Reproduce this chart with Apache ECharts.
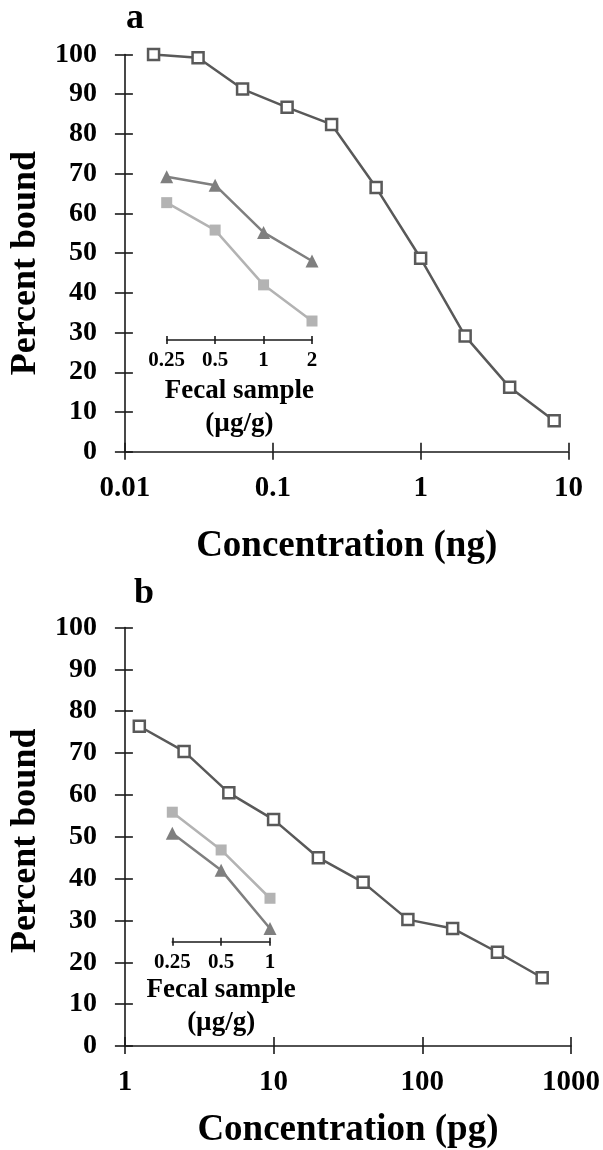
<!DOCTYPE html>
<html>
<head>
<meta charset="utf-8">
<script src="https://cdn.jsdelivr.net/npm/echarts@6/dist/echarts.min.js"></script>
<style>
html, body { margin: 0; padding: 0; background: #fff; }
#main { width: 603px; height: 1150px; }
</style>
</head>
<body>
<div id="main"></div>
<script>
// panel a: standard curve, ng
var concA = [0.015625, 0.03125, 0.0625, 0.125, 0.25, 0.5, 1, 2, 4, 8];
var boundA = [100, 99.2, 91.3, 86.7, 82.4, 66.5, 48.7, 29.1, 16.2, 7.8];
var fecalA = ['0.25', '0.5', '1', '2'];
var fecalTriA = [69.2, 67.1, 55.2, 48.0];
var fecalSqA = [62.7, 55.8, 42.0, 32.9];

// panel b: standard curve, pg
var concB = [1.25, 2.5, 5, 10, 20, 40, 80, 160, 320, 640];
var boundB = [76.4, 70.4, 60.5, 54.1, 45.0, 39.1, 30.2, 28.1, 22.4, 16.3];
var fecalB = ['0.25', '0.5', '1'];
var fecalSqB = [56.0, 47.0, 35.5];
var fecalTriB = [51.0, 42.2, 28.3];

var FONT = "'Liberation Serif', 'Times New Roman', serif";
var AXIS = '#1a1a1a';
var DARK = '#595959';
var MID = '#7f7f7f';
var LIGHT = '#b3b3b3';

function pairs(xs, ys) {
    return xs.map(function (x, i) { return [x, ys[i]]; });
}

// each axis comes twice: one with outside ticks + labels, one with inside ticks only,
// so the ticks cross the axis line like in the original figure
function mainX(grid, min, max, name, gap) {
    return [{
        type: 'log', logBase: 10, gridIndex: grid, min: min, max: max, position: 'bottom',
        name: name, nameLocation: 'middle', nameGap: gap,
        nameTextStyle: { fontFamily: FONT, fontWeight: 'bold', fontSize: 37, color: '#000' },
        axisLine: { lineStyle: { color: AXIS, width: 1.6 } },
        axisTick: { length: 8, lineStyle: { color: AXIS, width: 1.6 } },
        axisLabel: {
            margin: 22, fontFamily: FONT, fontWeight: 'bold', fontSize: 29, color: '#000',
            formatter: function (v) { return String(+v.toPrecision(6)); }
        },
        splitLine: { show: false }, minorTick: { show: false }
    }, {
        type: 'log', logBase: 10, gridIndex: grid, min: min, max: max, position: 'bottom',
        axisLine: { show: false },
        axisTick: { show: true, inside: true, length: 9, lineStyle: { color: AXIS, width: 1.6 } },
        axisLabel: { show: false }, splitLine: { show: false }
    }];
}

function mainY(grid, gap, shift) {
    return [{
        type: 'value', gridIndex: grid, min: 0, max: 100, interval: 10, position: 'left',
        name: 'Percent bound', nameLocation: 'middle', nameGap: gap,
        nameTextStyle: { fontFamily: FONT, fontWeight: 'bold', fontSize: 36, color: '#000', padding: [0, shift, 0, 0] },
        axisLine: { show: true, lineStyle: { color: AXIS, width: 1.6 } },
        axisTick: { show: true, length: 10, lineStyle: { color: AXIS, width: 1.6 } },
        axisLabel: { margin: 28, fontFamily: FONT, fontWeight: 'bold', fontSize: 28, color: '#000' },
        splitLine: { show: false }
    }, {
        type: 'value', gridIndex: grid, min: 0, max: 100, interval: 10, position: 'left',
        axisLine: { show: false },
        axisTick: { show: true, inside: true, length: 8, lineStyle: { color: AXIS, width: 1.6 } },
        axisLabel: { show: false }, splitLine: { show: false }
    }];
}

function insetX(grid, cats, gap) {
    return [{
        type: 'category', gridIndex: grid, data: cats, boundaryGap: false, position: 'bottom',
        name: 'Fecal sample\n(µg/g)', nameLocation: 'middle', nameGap: gap,
        nameTextStyle: { fontFamily: FONT, fontWeight: 'bold', fontSize: 27, lineHeight: 33, color: '#000' },
        axisLine: { lineStyle: { color: AXIS, width: 1.6 } },
        axisTick: { length: 4, interval: 0, lineStyle: { color: AXIS, width: 1.6 } },
        axisLabel: { margin: 10, interval: 0, hideOverlap: false, fontFamily: FONT, fontWeight: 'bold', fontSize: 21, color: '#000' }
    }, {
        type: 'category', gridIndex: grid, data: cats, boundaryGap: false, position: 'bottom',
        axisLine: { show: false },
        axisTick: { show: true, inside: true, length: 4, interval: 0, lineStyle: { color: AXIS, width: 1.6 } },
        axisLabel: { show: false }
    }];
}

var myChart = echarts.init(document.getElementById('main'));
var option = {
    backgroundColor: '#fff',
    animation: false,
    title: [
        { text: 'a', left: 121, top: -4, textStyle: { fontFamily: FONT, fontWeight: 'bold', fontSize: 36, color: '#000' } },
        { text: 'b', left: 129, top: 571, textStyle: { fontFamily: FONT, fontWeight: 'bold', fontSize: 36, color: '#000' } }
    ],
    grid: [
        { left: 114.5, width: 454, top: 54.5, height: 397.2 },
        { left: 120.4, width: 451.7, top: 627.5, height: 419.8 },
        { left: 166.7, width: 145.3, top: 54.5, height: 285.5 },
        { left: 172.3, width: 97.7, top: 627.5, height: 314.2 }
    ],
    // x: 0,1 grid a | 2,3 grid b | 4,5 inset a | 6,7 inset b
    xAxis: [].concat(
        mainX(0, 0.01, 10, 'Concentration (ng)', 76),
        mainX(1, 1, 1000, 'Concentration (pg)', 66),
        insetX(2, fecalA, 35),
        insetX(3, fecalB, 32)
    ),
    // y: 0,1 grid a | 2,3 grid b | 4 inset a | 5 inset b
    // inset y ranges keep the same px-per-unit as the main panels
    yAxis: [].concat(
        mainY(0, 68, 20),
        mainY(1, 74, 8),
        [{ type: 'value', gridIndex: 2, min: 28.12, max: 100, show: false, splitLine: { show: false } },
         { type: 'value', gridIndex: 3, min: 25.15, max: 100, show: false, splitLine: { show: false } }]
    ),
    series: [
        {
            type: 'line', xAxisIndex: 0, yAxisIndex: 0, data: pairs(concA, boundA),
            symbol: 'rect', symbolSize: 11, z: 5,
            lineStyle: { color: DARK, width: 2.5 },
            itemStyle: { color: '#fff', borderColor: DARK, borderWidth: 2.5 }
        },
        {
            type: 'line', xAxisIndex: 2, yAxisIndex: 2, data: pairs(concB, boundB),
            symbol: 'rect', symbolSize: 11, z: 5,
            lineStyle: { color: DARK, width: 2.5 },
            itemStyle: { color: '#fff', borderColor: DARK, borderWidth: 2.5 }
        },
        {
            type: 'line', xAxisIndex: 4, yAxisIndex: 4, data: fecalTriA,
            symbol: 'triangle', symbolSize: 13,
            lineStyle: { color: MID, width: 2.5 }, itemStyle: { color: MID }
        },
        {
            type: 'line', xAxisIndex: 4, yAxisIndex: 4, data: fecalSqA,
            symbol: 'rect', symbolSize: 11,
            lineStyle: { color: LIGHT, width: 2.5 }, itemStyle: { color: LIGHT }
        },
        {
            type: 'line', xAxisIndex: 6, yAxisIndex: 5, data: fecalSqB,
            symbol: 'rect', symbolSize: 11,
            lineStyle: { color: LIGHT, width: 2.5 }, itemStyle: { color: LIGHT }
        },
        {
            type: 'line', xAxisIndex: 6, yAxisIndex: 5, data: fecalTriB,
            symbol: 'triangle', symbolSize: 13,
            lineStyle: { color: MID, width: 2.5 }, itemStyle: { color: MID }
        }
    ]
};
option && myChart.setOption(option);
</script>
</body>
</html>
